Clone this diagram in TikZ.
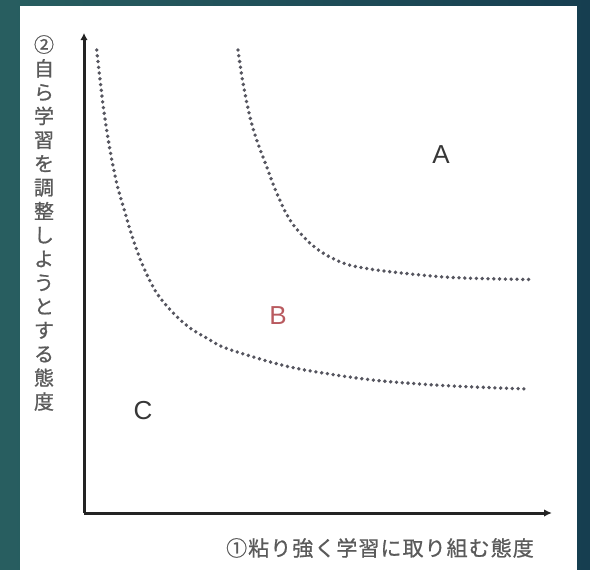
\documentclass[tikz,border=0pt]{standalone}
\usepackage{fontspec}
\newfontfamily\cjk[FakeBold=0.8]{Noto Sans CJK JP}
\newfontfamily\latinsans{Liberation Sans}
\usetikzlibrary{arrows.meta}
\definecolor{bgleft}{RGB}{40,94,96}
\definecolor{bgright}{RGB}{22,62,80}
\definecolor{axiscol}{RGB}{35,35,35}
\definecolor{dotcol}{RGB}{85,85,95}
\definecolor{labelcol}{RGB}{90,90,90}
\definecolor{letcol}{RGB}{55,55,55}
\definecolor{bcol}{RGB}{185,90,95}
\tikzset{
  axisline/.style={draw=axiscol, line width=3pt},
  dotcurve/.style={draw=dotcol, line width=3.8pt, line cap=round, dash pattern=on 0pt off 5.8pt},
  axislabel/.style={text=labelcol, inner sep=0pt},
  region/.style={font=\latinsans\fontsize{26}{30}\selectfont, text=letcol, inner sep=0pt},
}
\begin{document}
\begin{tikzpicture}[x=1pt,y=-1pt]
  \shade[left color=bgleft, right color=bgright] (0,0) rectangle (590,570);
  \useasboundingbox (0,0) rectangle (590,570);
  \fill[white] (20,6) rectangle (577,570);
  % axes
  \coordinate (origin) at (84,513);
  \coordinate (ytop) at (84,33);
  \coordinate (xend) at (552,513);
  \draw[axisline, -{Latex[length=7pt,width=7.5pt]}] (origin) -- (ytop);
  \draw[axisline, -{Latex[length=8pt,width=7.5pt]}] (origin) -- (xend);
  % curves
  \draw[dotcurve] plot[smooth, tension=0.6] coordinates {(96.7,50) (103.3,106.7) (110,150) (116.7,183) (123.3,206.7) (133.3,240) (143.3,266.7) (156.7,293) (173.3,313) (190,328) (206.7,338) (223,347) (256.7,358) (290,367) (323,373) (356.7,378) (390,381.7) (452,386) (529,389)};
  \draw[dotcurve] plot[smooth, tension=0.6] coordinates {(238,50) (243,83) (250,117) (256.7,140) (266.7,166.7) (276.7,193) (290,220) (306.7,240) (323,253) (340,261.7) (356.7,266.7) (390,271.7) (452,277.5) (531,279.5)};
  % labels
  \node[region] (A) at (441,155) {A};
  \node[region, text=bcol] (B) at (278,316) {B};
  \node[region] (C) at (143,411) {C};
  \node[axislabel, anchor=north, align=center, font=\cjk\fontsize{20}{23.8}\selectfont] (ylab) at (44,35)
    {②\\自\\ら\\学\\習\\を\\調\\整\\し\\よ\\う\\と\\す\\る\\態\\度};
  \node[axislabel, font=\cjk\fontsize{21}{25}\selectfont\addfontfeature{LetterSpace=5}] (xlab) at (380,548)
    {①粘り強く学習に取り組む態度};
\end{tikzpicture}
\end{document}
